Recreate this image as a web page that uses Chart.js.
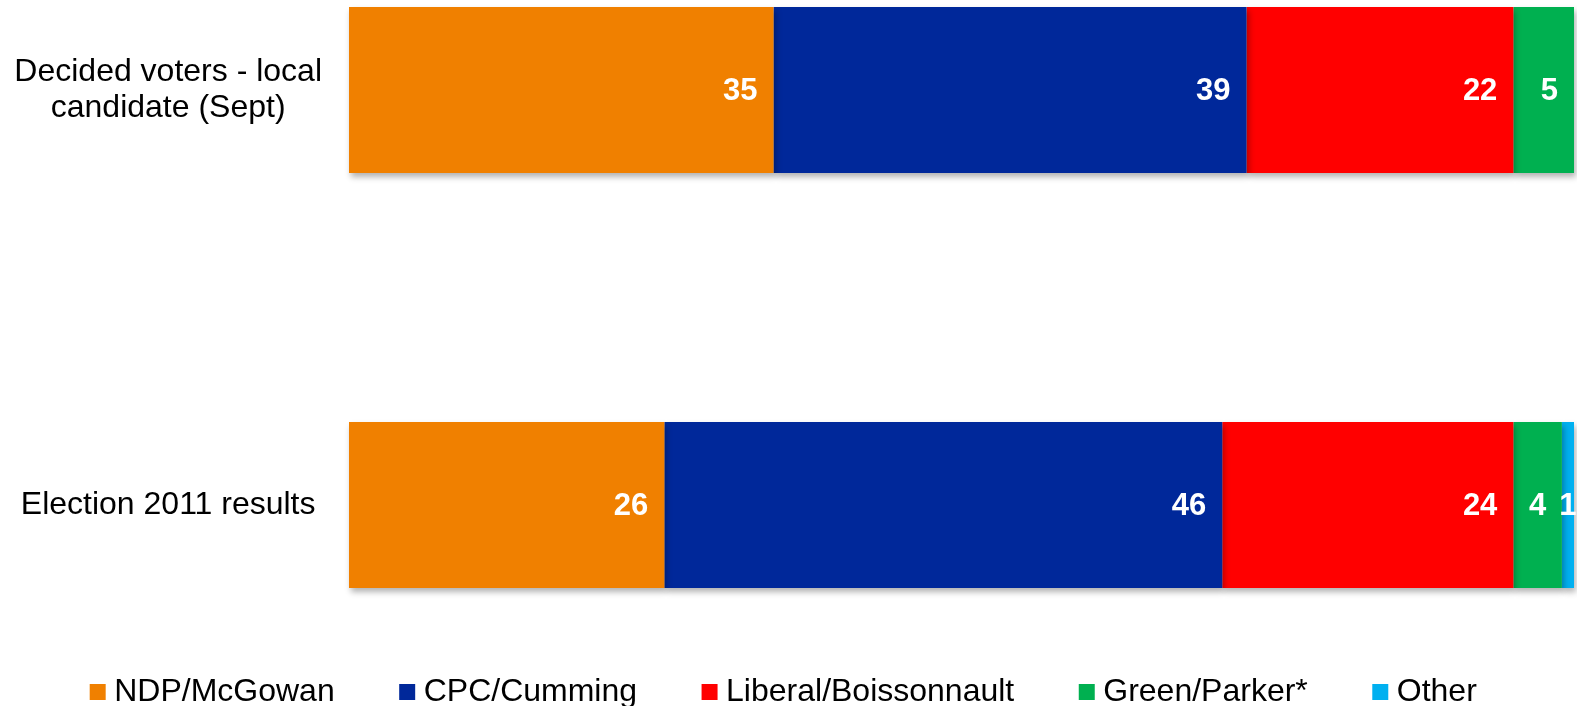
<!DOCTYPE html>
<html>
<head>
<meta charset="utf-8">
<script src="https://cdn.jsdelivr.net/npm/chart.js@4"></script>
<style>
html, body { margin:0; padding:0; background:#fff; overflow:hidden; }
#wrap { position:relative; width:1577px; height:718px; }
</style>
</head>
<body>
<div id="wrap"><canvas id="bar-chart"></canvas></div>
<script>
// rows and parties
const categories = [['Decided voters - local', 'candidate (Sept)'], 'Election 2011 results'];
const parties = ['NDP/McGowan', 'CPC/Cumming', 'Liberal/Boissonnault', 'Green/Parker*', 'Other'];
const ndp = [35, 26];
const cpc = [39, 46];
const liberal = [22, 24];
const green = [5, 4];
const other = [0, 1];
const partyColors = ['#F08000', '#00289A', '#FF0000', '#00B050', '#00B0F0'];
const axisMax = 101;

Chart.defaults.font.family = "Arial, 'Liberation Sans', sans-serif";
Chart.defaults.color = '#000';

// soft shadow under the bars
const barShadow = {
  id: 'barShadow',
  beforeDatasetsDraw(chart) {
    const ctx = chart.ctx;
    ctx.save();
    ctx.shadowColor = 'rgba(0,0,0,0.3)';
    ctx.shadowBlur = 6;
    ctx.shadowOffsetX = 2;
    ctx.shadowOffsetY = 4;
  },
  afterDatasetsDraw(chart) {
    chart.ctx.restore();
  }
};

// white value labels, inside end (centred if the bar is too thin)
const valueLabels = {
  id: 'valueLabels',
  afterDraw(chart) {
    const ctx = chart.ctx;
    ctx.save();
    ctx.font = 'bold 31px Arial, "Liberation Sans", sans-serif';
    ctx.fillStyle = '#fff';
    ctx.textBaseline = 'middle';
    chart.data.datasets.forEach((ds, i) => {
      chart.getDatasetMeta(i).data.forEach((el, j) => {
        const v = ds.data[j];
        if (!v) return;
        const p = el.getProps(['x', 'base', 'y'], true);
        const txt = String(v);
        const tw = ctx.measureText(txt).width;
        const w = p.x - p.base;
        if (w >= tw + 32) {
          ctx.textAlign = 'right';
          ctx.fillText(txt, p.x - 16, p.y + 1);
        } else {
          ctx.textAlign = 'center';
          ctx.fillText(txt, (p.x + p.base) / 2, p.y + 1);
        }
      });
    });
    ctx.restore();
  }
};

const series = [ndp, cpc, liberal, green, other];

new Chart(document.getElementById('bar-chart'), {
  type: 'bar',
  data: {
    labels: categories,
    datasets: series.map((d, i) => ({
      label: parties[i],
      data: d,
      backgroundColor: partyColors[i],
      borderWidth: 0,
      barPercentage: 0.4,
      categoryPercentage: 1,
      clip: false
    }))
  },
  options: {
    indexAxis: 'y',
    responsive: true,
    maintainAspectRatio: false,
    animation: false,
    layout: { padding: { top: 90, right: 3, left: 0, bottom: 0 } },
    scales: {
      x: {
        stacked: true,
        min: 0,
        max: axisMax,
        grid: { display: false, drawTicks: false },
        border: { display: false },
        ticks: { display: false },
        afterFit: (s) => { s.height = 99; }
      },
      y: {
        stacked: true,
        offset: false,
        grid: { display: false, drawTicks: false },
        border: { display: false },
        ticks: {
          crossAlign: 'center',
          padding: 27,
          autoSkip: false,
          color: '#000',
          font: { size: 32, lineHeight: 1.12 }
        },
        afterFit: (s) => { s.width = 349; }
      }
    },
    plugins: {
      tooltip: { enabled: false },
      legend: {
        position: 'bottom',
        labels: {
          usePointStyle: true,
          pointStyle: 'rect',
          boxWidth: 1,
          boxHeight: 16,
          padding: 72,
          color: '#000',
          font: { size: 32 }
        }
      }
    }
  },
  plugins: [barShadow, valueLabels]
});
</script>
</body>
</html>
